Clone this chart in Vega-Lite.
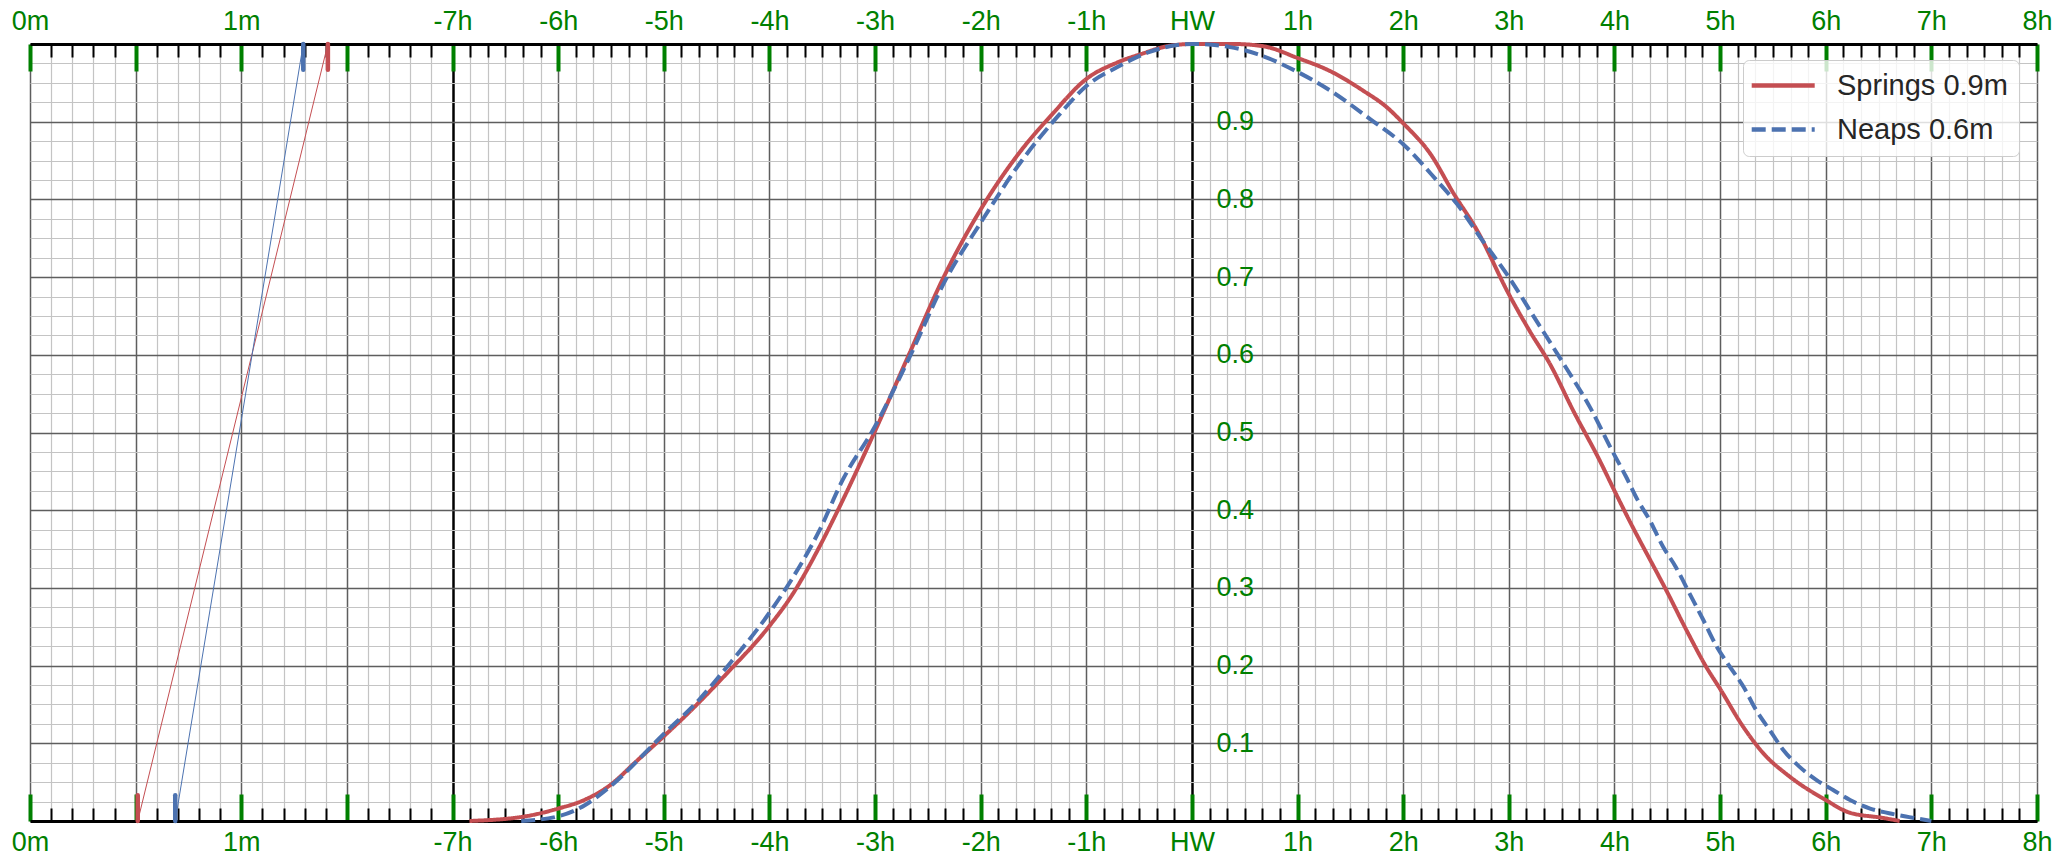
{
  "$schema": "https://vega.github.io/schema/vega-lite/v6.json",
  "autosize": {"type": "none"},
  "width": 2007,
  "height": 777,
  "padding": {"left": 30, "top": 44, "right": 23, "bottom": 36},
  "background": "white",
  "config": {
    "view": {"stroke": null},
    "axis": {"labelFont": "Liberation Sans", "labelFontSize": 27, "labelColor": "green", "title": null},
    "legend": {"labelFont": "Liberation Sans"}
  },
  "datasets": {
    "springs": [
      {"series": "Springs 0.9m", "x": 4.16, "h": 0},
      {"series": "Springs 0.9m", "x": 4.69, "h": 0.006},
      {"series": "Springs 0.9m", "x": 5.0, "h": 0.016},
      {"series": "Springs 0.9m", "x": 5.23, "h": 0.026},
      {"series": "Springs 0.9m", "x": 5.48, "h": 0.045},
      {"series": "Springs 0.9m", "x": 5.75, "h": 0.078},
      {"series": "Springs 0.9m", "x": 6.0, "h": 0.109},
      {"series": "Springs 0.9m", "x": 6.27, "h": 0.144},
      {"series": "Springs 0.9m", "x": 6.59, "h": 0.189},
      {"series": "Springs 0.9m", "x": 7.0, "h": 0.251},
      {"series": "Springs 0.9m", "x": 7.22, "h": 0.292},
      {"series": "Springs 0.9m", "x": 7.47, "h": 0.352},
      {"series": "Springs 0.9m", "x": 7.63, "h": 0.395},
      {"series": "Springs 0.9m", "x": 8.0, "h": 0.502},
      {"series": "Springs 0.9m", "x": 8.32, "h": 0.6},
      {"series": "Springs 0.9m", "x": 8.65, "h": 0.7},
      {"series": "Springs 0.9m", "x": 9.0, "h": 0.787},
      {"series": "Springs 0.9m", "x": 9.36, "h": 0.859},
      {"series": "Springs 0.9m", "x": 9.68, "h": 0.91},
      {"series": "Springs 0.9m", "x": 10.0, "h": 0.955},
      {"series": "Springs 0.9m", "x": 10.29, "h": 0.976},
      {"series": "Springs 0.9m", "x": 10.54, "h": 0.988},
      {"series": "Springs 0.9m", "x": 10.76, "h": 0.997},
      {"series": "Springs 0.9m", "x": 11.0, "h": 1.0},
      {"series": "Springs 0.9m", "x": 11.4, "h": 1.0},
      {"series": "Springs 0.9m", "x": 11.68, "h": 0.997},
      {"series": "Springs 0.9m", "x": 12.0, "h": 0.982},
      {"series": "Springs 0.9m", "x": 12.31, "h": 0.965},
      {"series": "Springs 0.9m", "x": 12.62, "h": 0.94},
      {"series": "Springs 0.9m", "x": 12.85, "h": 0.918},
      {"series": "Springs 0.9m", "x": 13.0, "h": 0.898},
      {"series": "Springs 0.9m", "x": 13.26, "h": 0.858},
      {"series": "Springs 0.9m", "x": 13.48, "h": 0.807},
      {"series": "Springs 0.9m", "x": 13.7, "h": 0.76},
      {"series": "Springs 0.9m", "x": 14.0, "h": 0.678},
      {"series": "Springs 0.9m", "x": 14.2, "h": 0.63},
      {"series": "Springs 0.9m", "x": 14.39, "h": 0.588},
      {"series": "Springs 0.9m", "x": 14.61, "h": 0.528},
      {"series": "Springs 0.9m", "x": 14.86, "h": 0.464},
      {"series": "Springs 0.9m", "x": 15.0, "h": 0.425},
      {"series": "Springs 0.9m", "x": 15.17, "h": 0.379},
      {"series": "Springs 0.9m", "x": 15.33, "h": 0.338},
      {"series": "Springs 0.9m", "x": 15.49, "h": 0.297},
      {"series": "Springs 0.9m", "x": 15.68, "h": 0.246},
      {"series": "Springs 0.9m", "x": 15.87, "h": 0.198},
      {"series": "Springs 0.9m", "x": 16.0, "h": 0.17},
      {"series": "Springs 0.9m", "x": 16.22, "h": 0.121},
      {"series": "Springs 0.9m", "x": 16.41, "h": 0.087},
      {"series": "Springs 0.9m", "x": 16.66, "h": 0.057},
      {"series": "Springs 0.9m", "x": 17.0, "h": 0.027},
      {"series": "Springs 0.9m", "x": 17.22, "h": 0.011},
      {"series": "Springs 0.9m", "x": 17.54, "h": 0.004},
      {"series": "Springs 0.9m", "x": 17.7, "h": 0.0}
    ],
    "neaps": [
      {"series": "Neaps 0.6m", "x": 4.65, "h": 0},
      {"series": "Neaps 0.6m", "x": 5.0, "h": 0.006},
      {"series": "Neaps 0.6m", "x": 5.26, "h": 0.021},
      {"series": "Neaps 0.6m", "x": 5.48, "h": 0.043},
      {"series": "Neaps 0.6m", "x": 6.0, "h": 0.112},
      {"series": "Neaps 0.6m", "x": 6.34, "h": 0.157},
      {"series": "Neaps 0.6m", "x": 6.59, "h": 0.197},
      {"series": "Neaps 0.6m", "x": 7.0, "h": 0.268},
      {"series": "Neaps 0.6m", "x": 7.22, "h": 0.313},
      {"series": "Neaps 0.6m", "x": 7.47, "h": 0.373},
      {"series": "Neaps 0.6m", "x": 7.69, "h": 0.438},
      {"series": "Neaps 0.6m", "x": 8.0, "h": 0.508},
      {"series": "Neaps 0.6m", "x": 8.32, "h": 0.595},
      {"series": "Neaps 0.6m", "x": 8.67, "h": 0.697},
      {"series": "Neaps 0.6m", "x": 9.0, "h": 0.77},
      {"series": "Neaps 0.6m", "x": 9.39, "h": 0.85},
      {"series": "Neaps 0.6m", "x": 9.75, "h": 0.91},
      {"series": "Neaps 0.6m", "x": 10.0, "h": 0.946},
      {"series": "Neaps 0.6m", "x": 10.29, "h": 0.97},
      {"series": "Neaps 0.6m", "x": 10.6, "h": 0.99},
      {"series": "Neaps 0.6m", "x": 11.0, "h": 1.0},
      {"series": "Neaps 0.6m", "x": 11.36, "h": 0.996},
      {"series": "Neaps 0.6m", "x": 11.62, "h": 0.987},
      {"series": "Neaps 0.6m", "x": 12.0, "h": 0.964},
      {"series": "Neaps 0.6m", "x": 12.31, "h": 0.94},
      {"series": "Neaps 0.6m", "x": 12.69, "h": 0.903},
      {"series": "Neaps 0.6m", "x": 13.0, "h": 0.871},
      {"series": "Neaps 0.6m", "x": 13.32, "h": 0.824},
      {"series": "Neaps 0.6m", "x": 13.51, "h": 0.794},
      {"series": "Neaps 0.6m", "x": 13.73, "h": 0.751},
      {"series": "Neaps 0.6m", "x": 14.0, "h": 0.7},
      {"series": "Neaps 0.6m", "x": 14.26, "h": 0.644},
      {"series": "Neaps 0.6m", "x": 14.52, "h": 0.588},
      {"series": "Neaps 0.6m", "x": 14.77, "h": 0.532},
      {"series": "Neaps 0.6m", "x": 14.98, "h": 0.476},
      {"series": "Neaps 0.6m", "x": 15.11, "h": 0.443},
      {"series": "Neaps 0.6m", "x": 15.22, "h": 0.413},
      {"series": "Neaps 0.6m", "x": 15.33, "h": 0.388},
      {"series": "Neaps 0.6m", "x": 15.46, "h": 0.353},
      {"series": "Neaps 0.6m", "x": 15.58, "h": 0.327},
      {"series": "Neaps 0.6m", "x": 15.71, "h": 0.293},
      {"series": "Neaps 0.6m", "x": 15.84, "h": 0.259},
      {"series": "Neaps 0.6m", "x": 15.97, "h": 0.224},
      {"series": "Neaps 0.6m", "x": 16.09, "h": 0.199},
      {"series": "Neaps 0.6m", "x": 16.22, "h": 0.173},
      {"series": "Neaps 0.6m", "x": 16.34, "h": 0.143},
      {"series": "Neaps 0.6m", "x": 16.47, "h": 0.117},
      {"series": "Neaps 0.6m", "x": 16.6, "h": 0.091},
      {"series": "Neaps 0.6m", "x": 16.75, "h": 0.07},
      {"series": "Neaps 0.6m", "x": 16.91, "h": 0.053},
      {"series": "Neaps 0.6m", "x": 17.07, "h": 0.04},
      {"series": "Neaps 0.6m", "x": 17.23, "h": 0.027},
      {"series": "Neaps 0.6m", "x": 17.42, "h": 0.016},
      {"series": "Neaps 0.6m", "x": 17.6, "h": 0.01},
      {"series": "Neaps 0.6m", "x": 17.79, "h": 0.005},
      {"series": "Neaps 0.6m", "x": 18.0, "h": 0.0}
    ],
    "scale": [
      {"series": "Springs 0.9m", "x": 1.02, "h": 0},
      {"series": "Springs 0.9m", "x": 2.82, "h": 1},
      {"series": "Neaps 0.6m", "x": 1.375, "h": 0},
      {"series": "Neaps 0.6m", "x": 2.587, "h": 1}
    ],
    "marks": [
      {"series": "Springs 0.9m", "x": 1.02, "h": 0, "h2": 0.033},
      {"series": "Springs 0.9m", "x": 2.82, "h": 0.967, "h2": 1},
      {"series": "Neaps 0.6m", "x": 1.375, "h": 0, "h2": 0.033},
      {"series": "Neaps 0.6m", "x": 2.587, "h": 0.967, "h2": 1}
    ]
  },
  "resolve": {"axis": {"x": "independent", "y": "independent"}},
  "layer": [
    {
      "data": {"name": "springs"},
      "mark": {"type": "line", "strokeWidth": 4, "interpolate": "monotone"},
      "encoding": {
        "x": {
          "field": "x", "type": "quantitative",
          "scale": {"domain": [0, 19], "nice": false, "zero": false},
          "axis": {
            "orient": "bottom",
            "values": [0,0.2,0.4,0.6,0.8,1,1.2,1.4,1.6,1.8,2,2.2,2.4,2.6,2.8,3,3.2,3.4,3.6,3.8,4,
              4.16667,4.33333,4.5,4.66667,4.83333,5,5.16667,5.33333,5.5,5.66667,5.83333,6,
              6.16667,6.33333,6.5,6.66667,6.83333,7,7.16667,7.33333,7.5,7.66667,7.83333,8,
              8.16667,8.33333,8.5,8.66667,8.83333,9,9.16667,9.33333,9.5,9.66667,9.83333,10,
              10.16667,10.33333,10.5,10.66667,10.83333,11,11.16667,11.33333,11.5,11.66667,11.83333,12,
              12.16667,12.33333,12.5,12.66667,12.83333,13,13.16667,13.33333,13.5,13.66667,13.83333,14,
              14.16667,14.33333,14.5,14.66667,14.83333,15,15.16667,15.33333,15.5,15.66667,15.83333,16,
              16.16667,16.33333,16.5,16.66667,16.83333,17,17.16667,17.33333,17.5,17.66667,17.83333,18,
              18.16667,18.33333,18.5,18.66667,18.83333,19],
            "labels": false,
            "grid": true,
            "gridColor": {"condition": {"test": "datum.value == round(datum.value)", "value": "#5e5e5e"}, "value": "#c4c4c4"},
            "gridWidth": {"condition": {"test": "datum.value == round(datum.value)", "value": 1.5}, "value": 1.2},
            "gridOpacity": {"condition": {"test": "datum.value == 4 || datum.value == 11", "value": 0}, "value": 1},
            "ticks": true,
            "tickColor": {"condition": {"test": "datum.value == round(datum.value)", "value": "green"}, "value": "black"},
            "tickSize": {"condition": {"test": "datum.value == round(datum.value)", "value": -27}, "value": -13},
            "tickWidth": {"condition": {"test": "datum.value == round(datum.value)", "value": 4}, "value": 2},
            "domain": true, "domainColor": "black", "domainWidth": 3
          }
        },
        "y": {
          "field": "h", "type": "quantitative",
          "scale": {"domain": [0, 1], "nice": false, "zero": false},
          "axis": {
            "orient": "left",
            "values": [0,0.025,0.05,0.075,0.1,0.125,0.15,0.175,0.2,0.225,0.25,0.275,0.3,0.325,0.35,0.375,0.4,0.425,0.45,0.475,0.5,0.525,0.55,0.575,0.6,0.625,0.65,0.675,0.7,0.725,0.75,0.775,0.8,0.825,0.85,0.875,0.9,0.925,0.95,0.975,1],
            "labels": false, "ticks": false, "domain": false,
            "grid": true,
            "gridColor": {"condition": {"test": "abs(datum.value*10 - round(datum.value*10)) < 0.001", "value": "#5e5e5e"}, "value": "#c4c4c4"},
            "gridWidth": {"condition": {"test": "abs(datum.value*10 - round(datum.value*10)) < 0.001", "value": 1.5}, "value": 1.2}
          }
        },
        "color": {
          "field": "series", "type": "nominal",
          "scale": {"domain": ["Springs 0.9m", "Neaps 0.6m"], "range": ["#c44e52", "#4c72b0"]},
          "legend": {
            "title": null, "orient": "none", "legendX": 1713, "legendY": 16,
            "symbolType": "M-1.6,0L4.4,0", "symbolSize": 441, "symbolStrokeWidth": 4.5,
            "labelFontSize": 29, "labelColor": "#262626", "labelOffset": 54, "labelLimit": 500,
            "fillColor": "rgba(255,255,255,0.8)", "strokeColor": "#cccccc", "cornerRadius": 6,
            "padding": 11, "rowPadding": 14
          }
        },
        "strokeDash": {
          "field": "series", "type": "nominal",
          "scale": {"domain": ["Springs 0.9m", "Neaps 0.6m"], "range": [[1, 0], [14, 6]]},
          "legend": null
        }
      }
    },
    {
      "data": {"name": "neaps"},
      "mark": {"type": "line", "strokeWidth": 4, "interpolate": "monotone"},
      "encoding": {
        "x": {
          "field": "x", "type": "quantitative",
          "axis": {
            "orient": "top",
            "values": [0,0.2,0.4,0.6,0.8,1,1.2,1.4,1.6,1.8,2,2.2,2.4,2.6,2.8,3,3.2,3.4,3.6,3.8,4,
              4.16667,4.33333,4.5,4.66667,4.83333,5,5.16667,5.33333,5.5,5.66667,5.83333,6,
              6.16667,6.33333,6.5,6.66667,6.83333,7,7.16667,7.33333,7.5,7.66667,7.83333,8,
              8.16667,8.33333,8.5,8.66667,8.83333,9,9.16667,9.33333,9.5,9.66667,9.83333,10,
              10.16667,10.33333,10.5,10.66667,10.83333,11,11.16667,11.33333,11.5,11.66667,11.83333,12,
              12.16667,12.33333,12.5,12.66667,12.83333,13,13.16667,13.33333,13.5,13.66667,13.83333,14,
              14.16667,14.33333,14.5,14.66667,14.83333,15,15.16667,15.33333,15.5,15.66667,15.83333,16,
              16.16667,16.33333,16.5,16.66667,16.83333,17,17.16667,17.33333,17.5,17.66667,17.83333,18,
              18.16667,18.33333,18.5,18.66667,18.83333,19],
            "labels": false,
            "grid": true,
            "gridColor": "black",
            "gridWidth": 2.5,
            "gridOpacity": {"condition": {"test": "datum.value == 4 || datum.value == 11", "value": 1}, "value": 0},
            "ticks": true,
            "tickColor": {"condition": {"test": "datum.value == round(datum.value)", "value": "green"}, "value": "black"},
            "tickSize": {"condition": {"test": "datum.value == round(datum.value)", "value": -27}, "value": -13},
            "tickWidth": {"condition": {"test": "datum.value == round(datum.value)", "value": 4}, "value": 2},
            "domain": true, "domainColor": "black", "domainWidth": 3
          }
        },
        "y": {
          "field": "h", "type": "quantitative",
          "axis": {
            "orient": "right", "offset": -821,
            "values": [0.1,0.2,0.3,0.4,0.5,0.6,0.7,0.8,0.9],
            "format": ".1f", "labelFontSize": 27,
            "labelAlign": "left", "labelBaseline": "middle", "labelPadding": 0,
            "ticks": false, "domain": false, "grid": false
          }
        },
        "color": {"field": "series", "type": "nominal", "legend": null},
        "strokeDash": {"field": "series", "type": "nominal", "legend": null}
      }
    },
    {
      "data": {"name": "scale"},
      "transform": [{"filter": "datum.series == 'Springs 0.9m'"}],
      "mark": {"type": "line", "strokeWidth": 1},
      "encoding": {
        "x": {
          "field": "x", "type": "quantitative",
          "axis": {
            "orient": "bottom",
            "values": [0,2,4,5,6,7,8,9,10,11,12,13,14,15,16,17,18,19],
            "labelExpr": "datum.value < 4 ? (datum.value/2) + 'm' : datum.value == 11 ? 'HW' : (datum.value - 11) + 'h'",
            "labelFontSize": 27,
            "labelBaseline": "alphabetic", "labelPadding": 29, "labelAlign": "center",
            "labelFlush": false, "labelOverlap": false, "labelBound": false,
            "ticks": false, "domain": false, "grid": false
          }
        },
        "y": {"field": "h", "type": "quantitative", "axis": null},
        "color": {"field": "series", "type": "nominal", "legend": null}
      }
    },
    {
      "data": {"name": "scale"},
      "transform": [{"filter": "datum.series == 'Neaps 0.6m'"}],
      "mark": {"type": "line", "strokeWidth": 1},
      "encoding": {
        "x": {
          "field": "x", "type": "quantitative",
          "axis": {
            "orient": "top",
            "values": [0,2,4,5,6,7,8,9,10,11,12,13,14,15,16,17,18,19],
            "labelExpr": "datum.value < 4 ? (datum.value/2) + 'm' : datum.value == 11 ? 'HW' : (datum.value - 11) + 'h'",
            "labelFontSize": 27,
            "labelBaseline": "alphabetic", "labelPadding": 15, "labelAlign": "center",
            "labelFlush": false, "labelOverlap": false, "labelBound": false,
            "ticks": false, "domain": false, "grid": false
          }
        },
        "y": {"field": "h", "type": "quantitative", "axis": null},
        "color": {"field": "series", "type": "nominal", "legend": null}
      }
    },
    {
      "data": {"name": "marks"},
      "mark": {"type": "rule", "strokeWidth": 4.5, "strokeCap": "round"},
      "encoding": {
        "x": {"field": "x", "type": "quantitative", "axis": null},
        "y": {"field": "h", "type": "quantitative", "axis": null},
        "y2": {"field": "h2"},
        "color": {"field": "series", "type": "nominal", "legend": null}
      }
    }
  ]
}
